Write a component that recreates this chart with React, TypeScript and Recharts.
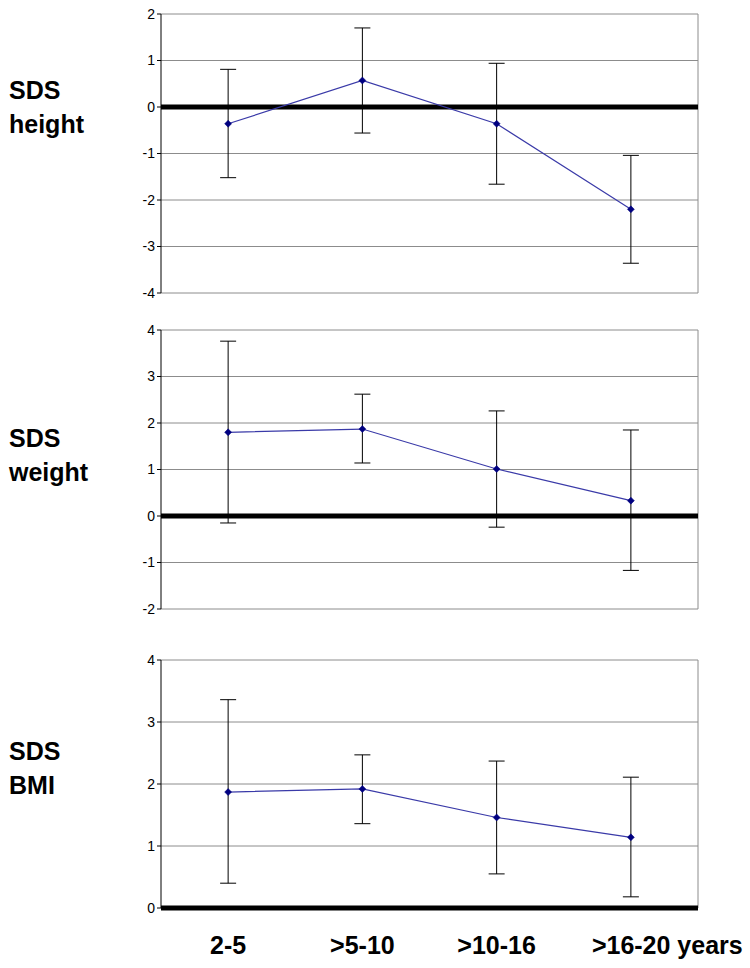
import React from "react";
import {
  ComposedChart,
  Line,
  XAxis,
  YAxis,
  CartesianGrid,
  ReferenceLine,
  ErrorBar,
} from "recharts";

const categories = ["2-5", ">5-10", ">10-16", ">16-20 years"];

const heightMean = [-0.36, 0.57, -0.36, -2.2];
const heightLow = [-1.52, -0.56, -1.66, -3.36];
const heightHigh = [0.81, 1.7, 0.94, -1.04];
const heightTicks = [-4, -3, -2, -1, 0, 1, 2];

const weightMean = [1.8, 1.87, 1.01, 0.33];
const weightLow = [-0.15, 1.14, -0.24, -1.17];
const weightHigh = [3.76, 2.62, 2.26, 1.85];
const weightTicks = [-2, -1, 0, 1, 2, 3, 4];

const bmiMean = [1.87, 1.92, 1.46, 1.14];
const bmiLow = [0.4, 1.36, 0.55, 0.18];
const bmiHigh = [3.36, 2.47, 2.37, 2.11];
const bmiTicks = [0, 1, 2, 3, 4];

const FONT = '"Liberation Sans", Arial, sans-serif';

function buildRows(mean: number[], low: number[], high: number[]) {
  return categories.map((cat, i) => ({
    cat,
    mean: mean[i],
    err: [mean[i] - low[i], high[i] - mean[i]],
  }));
}

function Diamond(props: any) {
  const { cx, cy } = props;
  if (cx == null || cy == null) return null;
  const r = 3.5;
  return (
    <polygon
      points={`${cx},${cy - r} ${cx + r},${cy} ${cx},${cy + r} ${cx - r},${cy}`}
      fill="#000080"
      stroke="#000080"
      strokeWidth={0.5}
    />
  );
}

// the last label has the unit tacked on; keep the range part centred on the point
function CategoryTick(props: any) {
  const { x, y, payload } = props;
  const label: string = payload.value;
  const hasUnit = label.includes(" ");
  return (
    <text
      x={x}
      y={y}
      dy={38}
      textAnchor={hasUnit ? "start" : "middle"}
      dx={hasUnit ? -39 : 0}
      fontFamily={FONT}
      fontWeight="bold"
      fontSize={25}
      fill="#000"
    >
      {label}
    </text>
  );
}

interface PanelProps {
  rows: { cat: string; mean: number; err: number[] }[];
  ticks: number[];
  top: number;
  height: number;
  showX?: boolean;
  lines: string[];
  labelTop: number;
}

function Panel({ rows, ticks, top, height, showX, lines, labelTop }: PanelProps) {
  return (
    <>
      <div
        style={{
          position: "absolute",
          left: 9,
          top: labelTop,
          fontFamily: FONT,
          fontWeight: "bold",
          fontSize: 25,
          lineHeight: "34px",
          color: "#000",
        }}
      >
        {lines.map((l) => (
          <div key={l}>{l}</div>
        ))}
      </div>
      <div style={{ position: "absolute", left: 0, top }}>
        <ComposedChart
          width={750}
          height={height}
          data={rows}
          margin={{ top: 14, right: 52, bottom: showX ? 0 : 7, left: 0 }}
        >
          <CartesianGrid
            stroke="#8c8c8c"
            vertical={true}
            verticalCoordinatesGenerator={({ offset }: any) => [
              offset.left + offset.width,
            ]}
          />
          <XAxis
            dataKey="cat"
            scale="band"
            hide={!showX}
            height={60}
            axisLine={false}
            tickLine={false}
            interval={0}
            tick={<CategoryTick />}
          />
          <YAxis
            type="number"
            domain={[ticks[0], ticks[ticks.length - 1]]}
            ticks={ticks}
            interval={0}
            width={161}
            tickSize={4}
            axisLine={{ stroke: "#000" }}
            tickLine={{ stroke: "#000" }}
            tick={{ fontSize: 14, fill: "#000", fontFamily: FONT }}
          />
          <ReferenceLine y={0} stroke="#000" strokeWidth={5} />
          <Line
            dataKey="mean"
            stroke="#3a3aa8"
            strokeWidth={1.2}
            dot={<Diamond />}
            activeDot={false}
            isAnimationActive={false}
          >
            <ErrorBar
              dataKey="err"
              direction="y"
              width={8}
              stroke="#000"
              strokeWidth={1}
              isAnimationActive={false}
            />
          </Line>
        </ComposedChart>
      </div>
    </>
  );
}

export default function App() {
  return (
    <div style={{ position: "absolute", left: 0, top: 0, width: 750, height: 968 }}>
      <Panel
        rows={buildRows(heightMean, heightLow, heightHigh)}
        ticks={heightTicks}
        top={0}
        height={300}
        lines={["SDS", "height"]}
        labelTop={73}
      />
      <Panel
        rows={buildRows(weightMean, weightLow, weightHigh)}
        ticks={weightTicks}
        top={316}
        height={300}
        lines={["SDS", "weight"]}
        labelTop={421}
      />
      <Panel
        rows={buildRows(bmiMean, bmiLow, bmiHigh)}
        ticks={bmiTicks}
        top={646}
        height={322}
        showX
        lines={["SDS", "BMI"]}
        labelTop={734}
      />
    </div>
  );
}
